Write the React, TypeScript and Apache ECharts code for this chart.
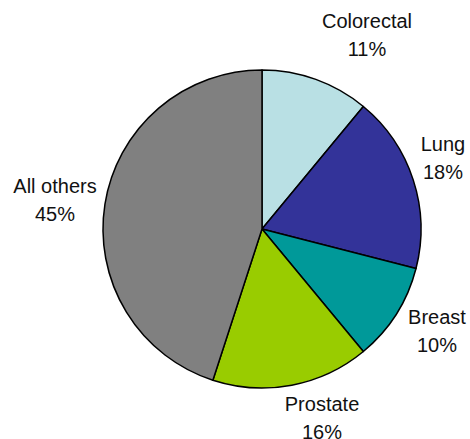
import React, { useEffect, useRef } from "react";
import * as echarts from "echarts";

const categories = ["Colorectal", "Lung", "Breast", "Prostate", "All others"];
const values = [11, 18, 10, 16, 45];
const colors = ["#B9E0E4", "#333399", "#009999", "#99CC00", "#808080"];
// label block centres (layout only)
const labelPos: [number, number][] = [
  [367, 35],
  [443, 158],
  [437, 331],
  [322, 418],
  [55, 200],
];

export default function App() {
  const ref = useRef<HTMLDivElement>(null);
  useEffect(() => {
    if (!ref.current) return;
    const chart = echarts.init(ref.current, undefined, { renderer: "svg" });
    chart.setOption({
      animation: false,
      backgroundColor: "#ffffff",
      series: [
        {
          type: "pie",
          center: [262, 229],
          radius: [0, 159],
          startAngle: 90,
          clockwise: true,
          avoidLabelOverlap: false,
          data: categories.map((name, i) => ({
            name,
            value: values[i],
            itemStyle: { color: colors[i] },
          })),
          itemStyle: { borderColor: "#000", borderWidth: 1.5 },
          emphasis: { disabled: true },
          label: {
            show: true,
            position: "outside",
            formatter: (p: any) => `${p.name}\n${values[p.dataIndex]}%`,
            fontFamily: "Liberation Sans, Arial, sans-serif",
            fontSize: 20,
            lineHeight: 28,
            color: "#111",
            align: "center",
            overflow: "none",
            width: 200,
          },
          labelLine: { show: false },
          labelLayout: (params: any) => ({
            x: labelPos[params.dataIndex][0],
            y: labelPos[params.dataIndex][1],
            align: "center",
            verticalAlign: "middle",
            hideOverlap: false,
          }),
        },
      ],
    });
    return () => chart.dispose();
  }, []);
  return <div ref={ref} style={{ width: 470, height: 439, position: "absolute", left: 0, top: 0 }} />;
}
